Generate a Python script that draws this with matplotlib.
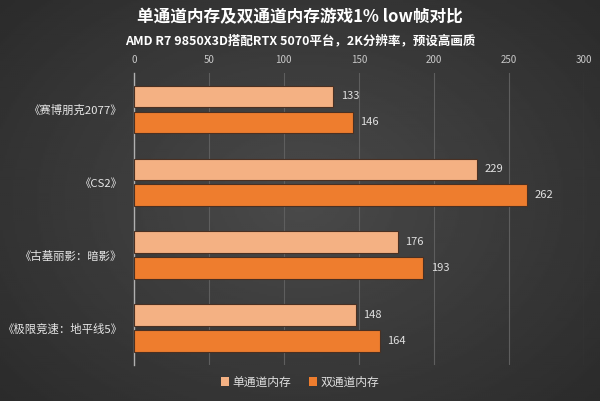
import numpy as np
import matplotlib.pyplot as plt
from matplotlib.patches import Patch

plt.rcParams['font.family'] = ['Noto Sans CJK SC', 'DejaVu Sans']

# 数据
games = ["《赛博朋克2077》", "《CS2》", "《古墓丽影：暗影》", "《极限竞速：地平线5》"]
single_channel = [133, 229, 176, 148]
dual_channel = [146, 262, 193, 164]
series_names = ["单通道内存", "双通道内存"]
xticks = [0, 50, 100, 150, 200, 250, 300]

c_single = "#F4B183"
c_dual = "#EE7D2E"

fig = plt.figure(figsize=(6, 4.01), dpi=100)

# 背景渐变
bg = fig.add_axes([0, 0, 1, 1], zorder=-10)
yy, xx = np.mgrid[-1:1:200j, -1:1:300j]
r = np.sqrt(xx ** 2 + (yy * 0.9) ** 2)
bg.imshow(0.29 - 0.09 * r, cmap="gray", vmin=0, vmax=1, aspect="auto",
          extent=[0, 1, 0, 1])
bg.axis("off")

ax = fig.add_axes([0.223, 0.09, 0.75, 0.728])
ax.patch.set_alpha(0)

y = np.arange(len(games))
h = 0.3
off = 0.178
b1 = ax.barh(y - off, single_channel, height=h, color=c_single,
             edgecolor="#4a3022", linewidth=0.8, zorder=3)
b2 = ax.barh(y + off, dual_channel, height=h, color=c_dual,
             edgecolor="#4a3022", linewidth=0.8, zorder=3)

for bars, vals in [(b1, single_channel), (b2, dual_channel)]:
    for bar, v in zip(bars, vals):
        ax.text(v + 5, bar.get_y() + bar.get_height() / 2, str(v),
                ha="left", va="center", color="#e0e0e0", fontsize=8)

ax.set_ylim(len(games) - 0.5, -0.5)
ax.set_xlim(0, 300)
ax.set_xticks(xticks)
ax.xaxis.tick_top()
ax.tick_params(axis="x", length=0, colors="#c8c8c8", labelsize=7, pad=6)
ax.set_yticks(y)
ax.set_yticklabels(games)
ax.tick_params(axis="y", length=0, colors="#e6e6e6", labelsize=8.2, pad=8)
ax.grid(axis="x", color="#5e5e5e", linewidth=0.8, zorder=0)
for s in ["top", "right", "bottom"]:
    ax.spines[s].set_visible(False)
ax.spines["left"].set_color("#b0b0b0")
ax.spines["left"].set_linewidth(1)

fig.text(0.5, 0.958, "单通道内存及双通道内存游戏1% low帧对比", ha="center",
         va="center", color="white", fontsize=12, fontweight="bold")
fig.text(0.5, 0.899, "AMD R7 9850X3D搭配RTX 5070平台，2K分辨率，预设高画质",
         ha="center", va="center", color="white", fontsize=9, fontweight="bold")

handles = [Patch(facecolor=c_single, edgecolor="none"),
           Patch(facecolor=c_dual, edgecolor="none")]
fig.legend(handles, series_names, loc="center", bbox_to_anchor=(0.5, 0.047),
           ncol=2, frameon=False, fontsize=8.5, labelcolor="#e0e0e0",
           handlelength=0.7, handleheight=0.7, handletextpad=0.3,
           columnspacing=1.5)

fig.savefig("out.png", dpi=100, facecolor="#333333")
